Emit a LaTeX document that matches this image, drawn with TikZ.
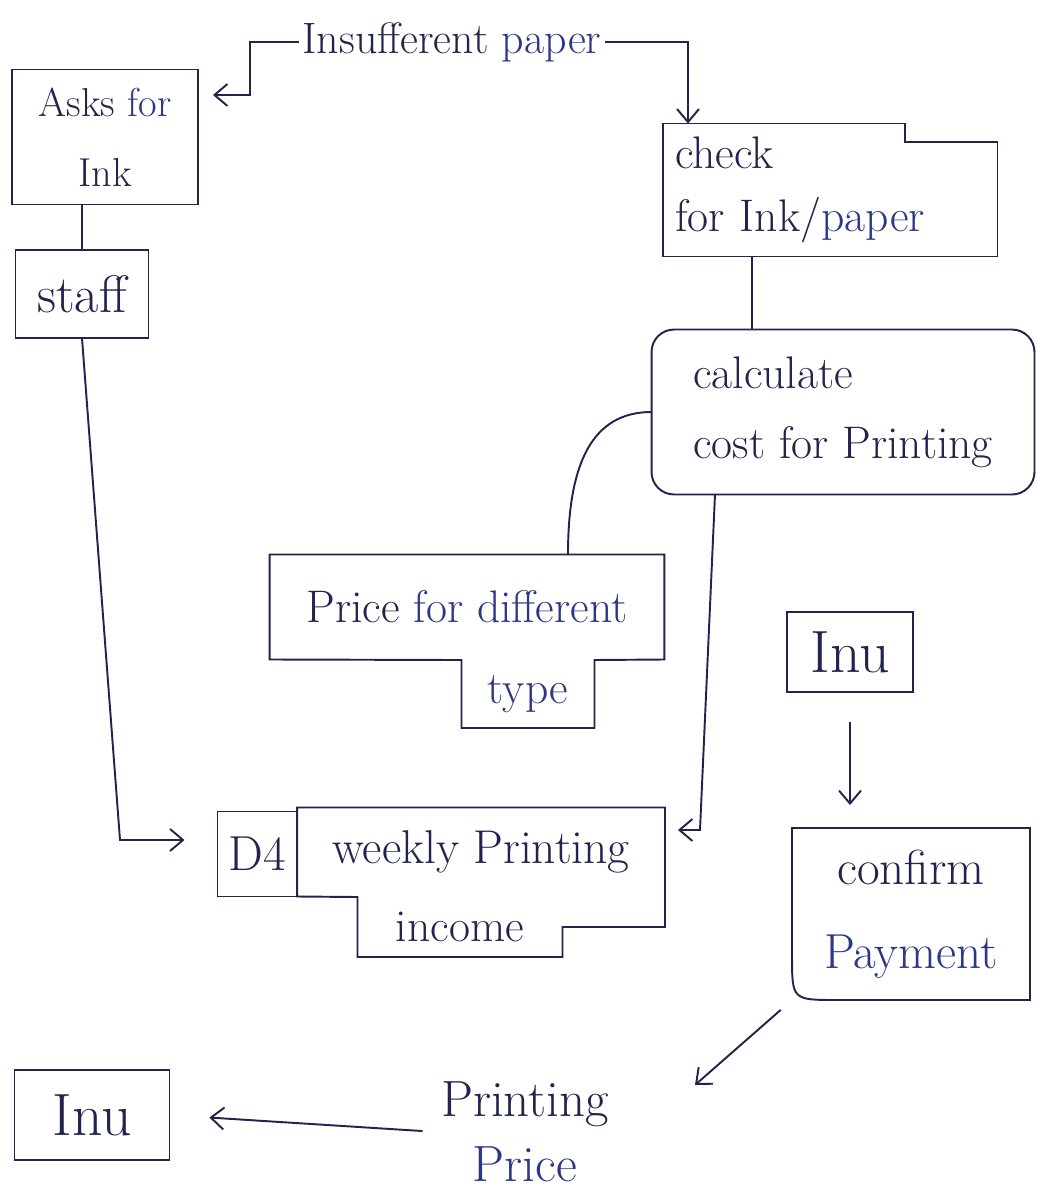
\documentclass[tikz,border=0pt]{standalone}
\usepackage{fontspec}
\usepackage{tikz}
\usetikzlibrary{positioning}
\usetikzlibrary{shapes,arrows,arrows.meta}
\definecolor{ink}{RGB}{34,36,78}
\definecolor{inkblue}{RGB}{45,55,135}

\begin{document}
\begin{tikzpicture}[x=0.02cm,y=-0.02cm,line width=1.1pt,color=ink,
    box/.style={rectangle,draw=ink,inner sep=2pt,outer sep=0pt},
    bare/.style={rectangle,inner sep=2pt,outer sep=0pt},
    hand/.style={font=\fontsize{26}{40}\selectfont},
    flow/.style={-{Straight Barb[length=2.6mm,width=4.4mm]}}]
    \fill[white] (0,0) rectangle (1050,1201);
    \useasboundingbox (0,0) rectangle (1050,1201);

    %Left column
    \node[box,align=center,font=\fontsize{23}{40}\selectfont,minimum width=3.72cm,minimum height=2.7cm] (asks) at (105,137) {Asks {\color{inkblue}for}\\Ink};
    \node[box,font=\fontsize{30}{36}\selectfont,minimum width=2.66cm,minimum height=1.76cm] (staff) at (82,294) {staff};
    \node[bare,font=\fontsize{25}{30}\selectfont] (ins) at (452,42) {Insufferent {\color{inkblue}paper}};

    %Right column
    \node[bare,align=left,text width=6.2cm,font=\fontsize{26}{36}\selectfont,minimum width=6.7cm,minimum height=2.66cm] (check) at (830,190) {check\\for Ink/{\color{inkblue}paper}};
    \coordinate (cn) at (905,142);
    \draw (check.north west) -- (cn |- check.north) -- (cn) -- (cn -| check.east) -- (check.south east) -- (check.south west) -- cycle;
    \node[box,hand,rounded corners=0.45cm,align=left,minimum width=7.66cm,minimum height=3.3cm] (calc) at (843,412) {calculate\\cost for Printing};

    %Price table
    \node[bare,hand,minimum width=7.9cm,minimum height=2.1cm] (price) at (467,607) {Price {\color{inkblue}for different}};
    \node[bare,hand,minimum width=2.66cm,minimum height=1.36cm] (type) at (528,694) {\color{inkblue}type};
    \draw (price.north west) -- (price.north east) -- (price.south east) -- (type.north east) -- (type.south east) -- (type.south west) -- (type.north west) -- (price.south west) -- cycle;

    %Data store
    \node[box,font=\fontsize{28}{34}\selectfont,minimum width=1.58cm,minimum height=1.7cm] (d4) at (257,854) {D4};
    \node[bare,font=\fontsize{27}{34}\selectfont,minimum width=7.36cm,minimum height=1.78cm] (weekly) at (481,852) {weekly Printing};
    \node[bare,hand,minimum width=4.1cm,minimum height=1.2cm] (income) at (460,927) {income};
    \draw (weekly.north west) -- (weekly.north east) -- (income.east -| weekly.east) -- (income.east) -- (income.south east) -- (income.south west) -- (income.north west) -- (weekly.south west) -- cycle;

    %Payment side
    \node[box,font=\fontsize{34}{40}\selectfont,minimum width=2.52cm,minimum height=1.6cm] (inu1) at (850,652) {Inu};
    \node[bare,align=center,font=\fontsize{28}{48}\selectfont,minimum width=4.76cm,minimum height=3.44cm] (confirm) at (911,914) {confirm\\{\color{inkblue}Payment}};
    \draw (confirm.north west) -- (confirm.north east) -- (confirm.south east) -- ([xshift=0.9cm]confirm.south west) .. controls (confirm.south west) .. ([yshift=0.9cm]confirm.south west) -- cycle;
    \node[bare,align=center,font=\fontsize{29}{37}\selectfont] (pp) at (525,1132) {Printing\\{\color{inkblue}Price}};
    \node[box,font=\fontsize{34}{40}\selectfont,minimum width=3.1cm,minimum height=1.8cm] (inu2) at (92,1115) {Inu};

    %Links on the left
    \draw (staff.north |- asks.south) -- (staff.north);
    \coordinate (sbend) at (120,840);
    \draw[flow,shorten >=0.66cm] (staff.south) -- (sbend) -- (sbend -| d4.west);
    \coordinate (il) at (250,0);
    \coordinate (ib) at (250,95);
    \draw[flow,shorten >=0.3cm] (ins.west) -- (il |- ins.west) -- (ib) -- (ib -| asks.east);
    \coordinate (tk) at (688,0);
    \draw[flow] (ins.east) -- (tk |- ins.east) -- (tk |- check.north);

    %Links on the right
    \coordinate (cc) at (752,0);
    \draw (cc |- check.south) -- (cc |- calc.north);
    \coordinate (pt) at (568,0);
    \draw (calc.west) .. controls +(-60,0) and +(0,-90) .. (pt |- price.north);
    \coordinate (cw) at (715,0);
    \coordinate (cb) at (700,830);
    \draw[flow,shorten >=0.26cm] (cw |- calc.south) -- (cb) -- (cb -| weekly.east);
    \draw[flow,shorten <=0.6cm,shorten >=0.46cm] (inu1.south) -- (inu1.south |- confirm.north);
    \coordinate (pptip) at (695,1085);
    \draw[flow,shorten <=0.3cm] (confirm.south west) -- (pptip);
    \draw[flow,shorten <=0.3cm,shorten >=0.8cm] (pp.west) -- (inu2.east);
\end{tikzpicture}
\end{document}
